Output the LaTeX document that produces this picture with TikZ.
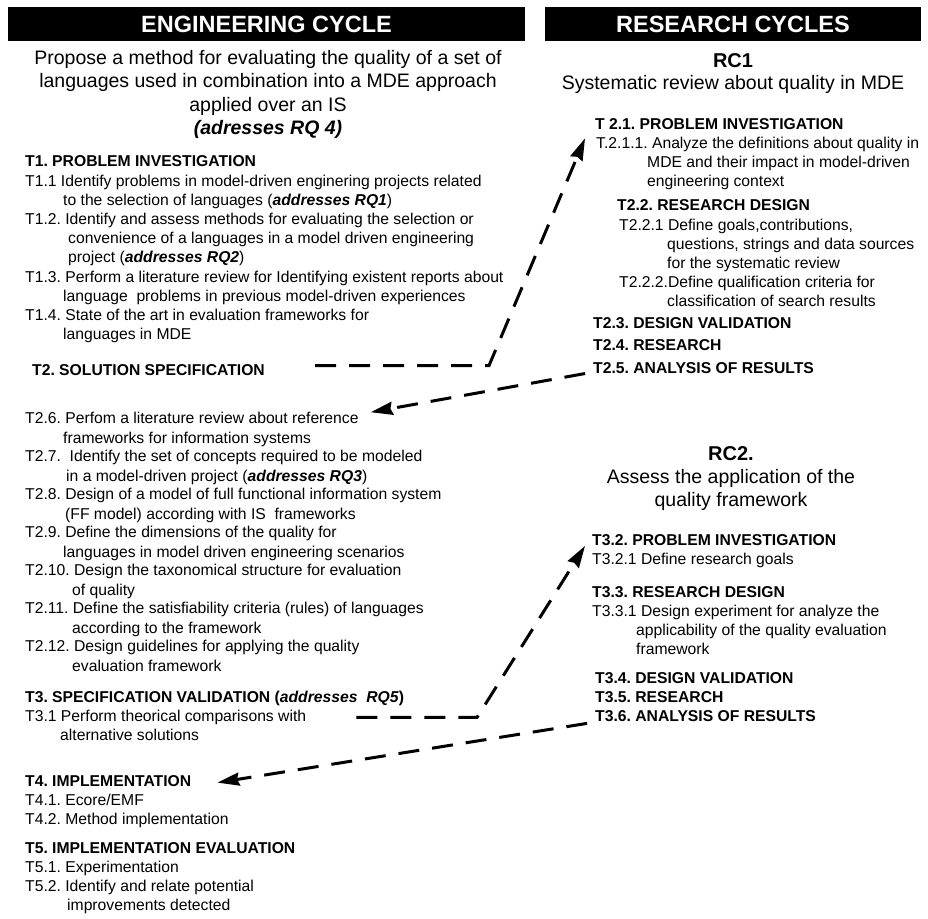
\documentclass[tikz,border=0pt]{standalone}
\usepackage{fontspec}
\setmainfont{Liberation Sans}
\usetikzlibrary{arrows.meta}
\newcommand\rqref[1]{\textbf{\textit{#1}}}
\frenchspacing
\begin{document}
\begin{tikzpicture}[x=1pt,y=-1pt,
  % multi-line nodes are placed by the baseline of their last line
  body/.style={anchor=base west, inner sep=0pt, align=left, font=\fontsize{15.7}{19.2}\selectfont},
  bodyr/.style={body, font=\fontsize{15.7}{19}\selectfont},
  head/.style={anchor=base west, inner sep=0pt, font=\fontsize{15.7}{19.2}\selectfont\bfseries},
  ctitle/.style={anchor=base, inner sep=0pt, align=center, font=\fontsize{19.5}{23.3}\selectfont},
  rctag/.style={anchor=base, inner sep=0pt, font=\fontsize{20}{24}\selectfont\bfseries},
  bar/.style={fill=black, inner sep=0pt, minimum height=34pt, text=white,
    font=\fontsize{23.5}{28}\selectfont\bfseries},
  flow/.style={line width=3pt, dash pattern=on 21pt off 13pt,
    -{Stealth[length=22pt,width=13pt,inset=2pt]}}
]
\useasboundingbox (0,0) rectangle (928,918);

% column banners
\node[bar, minimum width=517pt] (ecbar) at (266.5,24) {ENGINEERING CYCLE};
\node[bar, minimum width=376pt] (rcbar) at (733,24) {RESEARCH CYCLES};

% engineering cycle
\node[ctitle] (goal) at (268,134.4) {Propose a method for evaluating the quality of a set of\\
  languages used in combination into a MDE approach\\
  applied over an IS\\
  \textbf{\textit{(adresses RQ 4)}}};

\node[head] (t1) at (25,166) {T1. PROBLEM INVESTIGATION};
\node[body] (t11) at (25,205.2) {T1.1 Identify problems in model-driven enginering projects related\\
  \hspace*{38pt}to the selection of languages (\rqref{addresses RQ1})};
\node[body] (t12) at (25,262.8) {T1.2. Identify and assess methods for evaluating the selection or\\
  \hspace*{43pt}convenience of a languages in a model driven engineering\\
  \hspace*{43pt}project (\rqref{addresses RQ2})};
\node[body] (t13) at (25,301.2) {T1.3. Perform a literature review for Identifying existent reports about\\
  \hspace*{38pt}language~ problems in previous model-driven experiences};
\node[body] (t14) at (25,339.6) {T1.4. State of the art in evaluation frameworks for\\
  \hspace*{38pt}languages in MDE};

\node[head] (t2) at (32,375) {T2. SOLUTION SPECIFICATION};
\node[body] (t26) at (25,443) {T2.6. Perfom a literature review about reference\\
  \hspace*{38pt}frameworks for information systems};
\node[body] (t27) at (25,481) {T2.7.~ Identify the set of concepts required to be modeled\\
  \hspace*{41pt}in a model-driven project (\rqref{addresses RQ3})};
\node[body] (t28) at (25,519) {T2.8. Design of a model of full functional information system\\
  \hspace*{40pt}(FF model) according with IS~ frameworks};
\node[body] (t29) at (25,557) {T2.9. Define the dimensions of the quality for\\
  \hspace*{38pt}languages in model driven engineering scenarios};
\node[body] (t210) at (25,595) {T2.10. Design the taxonomical structure for evaluation\\
  \hspace*{47pt}of quality};
\node[body] (t211) at (25,633) {T2.11. Define the satisfiability criteria (rules) of languages\\
  \hspace*{47pt}according to the framework};
\node[body] (t212) at (25,671) {T2.12. Design guidelines for applying the quality\\
  \hspace*{47pt}evaluation framework};

\node[head] (t3) at (25,702) {T3. SPECIFICATION VALIDATION (\textit{addresses~ RQ5})};
\node[body] (t31) at (25,740.2) {T3.1 Perform theorical comparisons with\\
  \hspace*{35pt}alternative solutions};

\node[head] (t4) at (25,786) {T4. IMPLEMENTATION};
\node[body] (t4x) at (25,824.2) {T4.1. Ecore/EMF\\T4.2. Method implementation};

\node[head] (t5) at (25,853) {T5. IMPLEMENTATION EVALUATION};
\node[body] (t5x) at (25,910.4) {T5.1. Experimentation\\T5.2. Identify and relate potential\\
  \hspace*{42pt}improvements detected};

% research cycle 1
\node[rctag] (rc1) at (733,67) {RC1};
\node[ctitle] (rc1t) at (733,89) {Systematic review about quality in MDE};
\node[head] (r21) at (595,129.5) {T 2.1. PROBLEM INVESTIGATION};
\node[bodyr] (r211) at (596,186) {T.2.1.1. Analyze the definitions about quality in\\
  \hspace*{51pt}MDE and their impact in model-driven\\
  \hspace*{51pt}engineering context};
\node[head] (r22) at (617,210.5) {T2.2. RESEARCH DESIGN};
\node[bodyr] (r221) at (619,268) {T2.2.1 Define goals,contributions,\\
  \hspace*{48pt}questions, strings and data sources\\
  \hspace*{48pt}for the systematic review};
\node[bodyr] (r222) at (619,306) {T2.2.2.Define qualification criteria for\\
  \hspace*{48pt}classification of search results};
\node[head] (r23) at (593,328.5) {T2.3. DESIGN VALIDATION};
\node[head] (r24) at (593,350.5) {T2.4. RESEARCH};
\node[head] (r25) at (593,373.5) {T2.5. ANALYSIS OF RESULTS};

% research cycle 2
\node[rctag] (rc2) at (731,460) {RC2.};
\node[ctitle] (rc2t) at (731,506.3) {Assess the application of the\\quality framework};
\node[head] (r32) at (592,545.5) {T3.2. PROBLEM INVESTIGATION};
\node[bodyr] (r321) at (592,564) {T3.2.1 Define research goals};
\node[head] (r33) at (592,597.5) {T3.3. RESEARCH DESIGN};
\node[bodyr] (r331) at (592,654) {T3.3.1 Design experiment for analyze the\\
  \hspace*{44pt}applicability of the quality evaluation\\
  \hspace*{44pt}framework};
\node[head] (r34) at (595,683.5) {T3.4. DESIGN VALIDATION};
\node[head] (r35) at (595,702.5) {T3.5. RESEARCH};
\node[head] (r36) at (595,721.5) {T3.6. ANALYSIS OF RESULTS};

% links between the cycles
\coordinate (kneeA) at (489,0);
\coordinate (kneeB) at (477,0);
\coordinate (bendA) at ([yshift=4pt]t2.east -| kneeA);
\coordinate (bendB) at ([yshift=-8pt]t31.north east -| kneeB);

\draw[flow, shorten <=50pt] ([yshift=4pt]t2.east) -- (bendA)
  -- ([xshift=-10pt,yshift=-8.5pt]r21.south west);
\draw[flow, shorten <=8pt] ([yshift=-4pt]r25.west) -- ([xshift=12pt]t26.north east);
\draw[flow, shorten <=50pt] ([yshift=-8pt]t31.north east) -- (bendB)
  -- ([xshift=-7pt]r32.south west);
\draw[flow, shorten <=8pt] ([yshift=-6pt]r36.west) -- ([xshift=26pt,yshift=-2pt]t4.east);
\end{tikzpicture}
\end{document}
